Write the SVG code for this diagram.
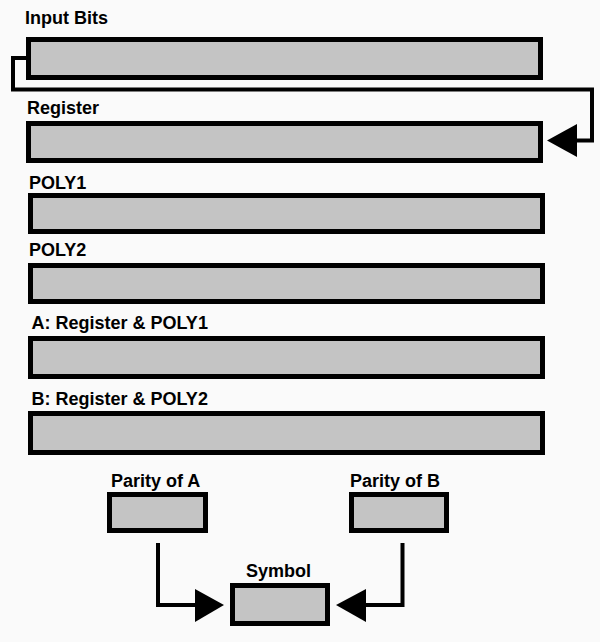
<svg xmlns="http://www.w3.org/2000/svg" width="600" height="642" viewBox="0 0 600 642">
<style>
.box{fill:#c4c4c4;stroke:#000;stroke-width:5}
.lbl{font-family:"Liberation Sans",Arial,sans-serif;font-weight:bold;font-size:18px;fill:#000}
.ln{fill:none;stroke:#000;stroke-width:4}
.ah{fill:#000;stroke:none}
</style>
<rect width="600" height="642" fill="#fafafa"/>
<g id="input-bits"><text class="lbl" x="25" y="24">Input Bits</text><rect class="box" x="28.5" y="39.5" width="512" height="38"/></g>
<g id="register"><text class="lbl" x="27" y="114">Register</text><rect class="box" x="28.5" y="123.5" width="512" height="37"/></g>
<g id="poly1"><text class="lbl" x="29" y="188.5">POLY1</text><rect class="box" x="30.5" y="195.5" width="512" height="36"/></g>
<g id="poly2"><text class="lbl" x="29" y="255.5">POLY2</text><rect class="box" x="30.5" y="265.5" width="512" height="36"/></g>
<g id="a"><text class="lbl" x="31.5" y="329">A: Register &amp; POLY1</text><rect class="box" x="30.5" y="338.5" width="512" height="38"/></g>
<g id="b"><text class="lbl" x="31.5" y="405">B: Register &amp; POLY2</text><rect class="box" x="30.5" y="413.5" width="512" height="39"/></g>
<g id="parity-a"><text class="lbl" x="111" y="487">Parity of A</text><rect class="box" x="109.5" y="494.5" width="96" height="36"/></g>
<g id="parity-b"><text class="lbl" x="350" y="487">Parity of B</text><rect class="box" x="351.5" y="494.5" width="95" height="36"/></g>
<g id="symbol"><text class="lbl" x="246" y="577">Symbol</text><rect class="box" x="232.5" y="585.5" width="95" height="38"/></g>
<g id="connectors">
<polyline class="ln" points="26,58 13,58 13,89.5 592,89.5 592,140.5 576,140.5"/>
<polygon class="ah" points="547,140.5 577,124 577,157"/>
<polyline class="ln" points="158,543 158,605 197,605"/>
<polygon class="ah" points="224,605 195,589 195,622"/>
<polyline class="ln" points="402.5,543 402.5,605 364,605"/>
<polygon class="ah" points="336,605 366,589 366,622"/>
</g>
</svg>
